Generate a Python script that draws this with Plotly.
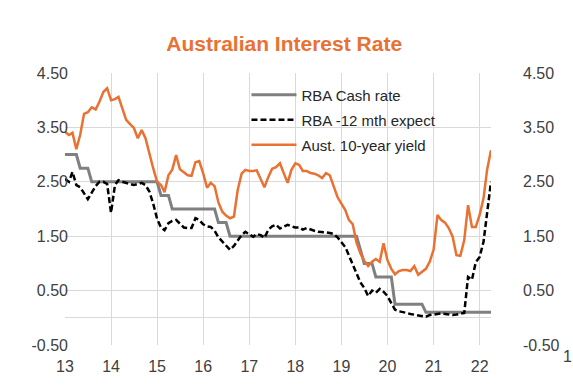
import plotly.graph_objects as go
import pandas as pd

# Monthly observations, Jan 2013 .. Apr 2022
months = pd.date_range("2013-01-01", periods=112, freq="MS")

cash_rate = (
    [3.00, 3.00, 3.00, 3.00, 2.75, 2.75, 2.75, 2.50, 2.50, 2.50, 2.50, 2.50]
    + [2.50] * 12
    + [2.50, 2.25, 2.25, 2.25, 2.00, 2.00, 2.00, 2.00, 2.00, 2.00, 2.00, 2.00]
    + [2.00, 2.00, 2.00, 2.00, 1.75, 1.75, 1.75, 1.50, 1.50, 1.50, 1.50, 1.50]
    + [1.50] * 12
    + [1.50] * 12
    + [1.50, 1.50, 1.50, 1.50, 1.50, 1.25, 1.00, 1.00, 1.00, 0.75, 0.75, 0.75]
    + [0.75, 0.75, 0.25, 0.25, 0.25, 0.25, 0.25, 0.25, 0.25, 0.25, 0.10, 0.10]
    + [0.10] * 12
    + [0.10] * 4
)

expect_12m = [
    2.55, 2.50, 2.68, 2.44, 2.40, 2.30, 2.18, 2.30, 2.42, 2.50, 2.50, 2.46,
    1.93, 2.44, 2.53, 2.50, 2.48, 2.46, 2.44, 2.46, 2.48, 2.44, 2.32, 2.10,
    1.82, 1.66, 1.61, 1.74, 1.78, 1.80, 1.74, 1.66, 1.65, 1.65, 1.83, 1.80,
    1.72, 1.68, 1.67, 1.60, 1.48, 1.40, 1.32, 1.25, 1.32, 1.43, 1.52, 1.58,
    1.54, 1.49, 1.54, 1.52, 1.47, 1.62, 1.68, 1.71, 1.64, 1.67, 1.71, 1.68,
    1.66, 1.66, 1.62, 1.65, 1.62, 1.60, 1.58, 1.58, 1.57, 1.56, 1.54, 1.48,
    1.38, 1.30, 1.15, 0.98, 0.80, 0.65, 0.55, 0.40, 0.50, 0.46, 0.53, 0.48,
    0.40, 0.26, 0.15, 0.12, 0.11, 0.09, 0.07, 0.06, 0.05, 0.03, 0.02, 0.05,
    0.06, 0.07, 0.08, 0.07, 0.06, 0.05, 0.06, 0.07, 0.09, 0.75, 0.70, 1.02,
    1.12, 1.40, 1.90, 2.50,
]

yield_10y = [
    3.42, 3.36, 3.40, 3.10, 3.36, 3.75, 3.78, 3.87, 3.83, 3.97, 4.15, 4.22,
    4.00, 4.02, 4.06, 3.86, 3.64, 3.56, 3.49, 3.30, 3.45, 3.30, 2.99, 2.75,
    2.50, 2.44, 2.31, 2.62, 2.72, 2.99, 2.73, 2.68, 2.62, 2.61, 2.86, 2.88,
    2.66, 2.39, 2.48, 2.42, 2.12, 1.95, 1.88, 1.83, 1.86, 2.35, 2.65, 2.72,
    2.70, 2.70, 2.71, 2.55, 2.40, 2.59, 2.74, 2.77, 2.84, 2.66, 2.48, 2.72,
    2.84, 2.81, 2.70, 2.70, 2.66, 2.65, 2.62, 2.57, 2.66, 2.62, 2.42, 2.22,
    2.10, 1.98, 1.80, 1.72, 1.38, 1.18, 1.05, 0.95, 1.03, 1.08, 1.03, 1.37,
    1.06, 0.90, 0.80, 0.86, 0.88, 0.88, 0.86, 0.95, 0.79, 0.84, 0.90, 1.03,
    1.25, 1.89, 1.80, 1.75, 1.65, 1.49, 1.15, 1.14, 1.43, 2.07, 1.67, 1.67,
    1.89, 2.20, 2.72, 3.08,
]

y_ticks = [4.5, 3.5, 2.5, 1.5, 0.5, -0.5]
y_tick_text = ["4.50", "3.50", "2.50", "1.50", "0.50", "-0.50"]

title_text = "Australian Interest Rate"
names = ["RBA Cash rate", "RBA -12 mth expect", "Aust. 10-year yield"]
corner_text = "1"

ORANGE = "#E97132"
GRAY = "#808080"
GRID = "#D9D9D9"
TXT = "#404040"
FONT = "Liberation Sans, Arial, sans-serif"

fig = go.Figure()
fig.add_trace(go.Scatter(x=months, y=cash_rate, name=names[0], mode="lines",
                         line=dict(color=GRAY, width=3), legendgroup="a"))
fig.add_trace(go.Scatter(x=months, y=expect_12m, name=names[1], mode="lines",
                         line=dict(color="black", width=2.5, dash="6px,3px"), legendgroup="b"))
fig.add_trace(go.Scatter(x=months, y=yield_10y, name=names[2], mode="lines",
                         line=dict(color=ORANGE, width=2.5), legendgroup="c"))
# invisible trace for the right-hand axis
fig.add_trace(go.Scatter(x=months[:1], y=cash_rate[:1], yaxis="y2", mode="lines",
                         line=dict(width=0), showlegend=False, hoverinfo="skip"))

fig.update_layout(
    width=573, height=387,
    margin=dict(l=65, r=82, t=73, b=42),
    paper_bgcolor="white", plot_bgcolor="white",
    font=dict(family=FONT, color=TXT, size=16),
    title=dict(text="<b>" + title_text + "</b>", x=0.496, xanchor="center",
               y=1 - 44 / 387, yanchor="middle",
               font=dict(family=FONT, size=21, color=ORANGE)),
    xaxis=dict(type="date", range=["2013-01-01", "2022-04-01"],
               tick0="2013-01-01", dtick="M12", tickformat="%y",
               showgrid=True, gridcolor=GRID, gridwidth=1,
               showline=False, zeroline=False, ticks="",
               ticklabelstandoff=10, tickfont=dict(size=16, color=TXT)),
    yaxis=dict(range=[-0.5, 4.5], tickvals=y_ticks, ticktext=y_tick_text,
               showgrid=True, gridcolor=GRID, gridwidth=1,
               zeroline=True, zerolinecolor=GRID, zerolinewidth=1,
               showline=False, ticks="", ticklabelstandoff=-4,
               tickfont=dict(size=16, color=TXT)),
    yaxis2=dict(range=[-0.5, 4.5], tickvals=y_ticks, ticktext=y_tick_text,
                overlaying="y", side="right", showgrid=False, zeroline=False,
                showline=False, ticks="", ticklabelstandoff=31,
                tickfont=dict(size=16, color=TXT)),
    legend=dict(x=0.426, y=0.98, xanchor="left", yanchor="top",
                bgcolor="rgba(0,0,0,0)", traceorder="grouped",
                tracegroupgap=2.5, itemwidth=45,
                font=dict(family=FONT, size=15, color="#262626")),
    showlegend=True,
    annotations=[dict(text=corner_text, xref="paper", yref="paper",
                      x=(567 - 65) / 426, y=-0.044, xanchor="center", yanchor="middle",
                      showarrow=False,
                      font=dict(family=FONT, size=16, color=TXT))],
)

fig.write_html("out.html", config={"displayModeBar": False},
               post_script="document.body.style.margin='0';document.body.style.padding='0';")
